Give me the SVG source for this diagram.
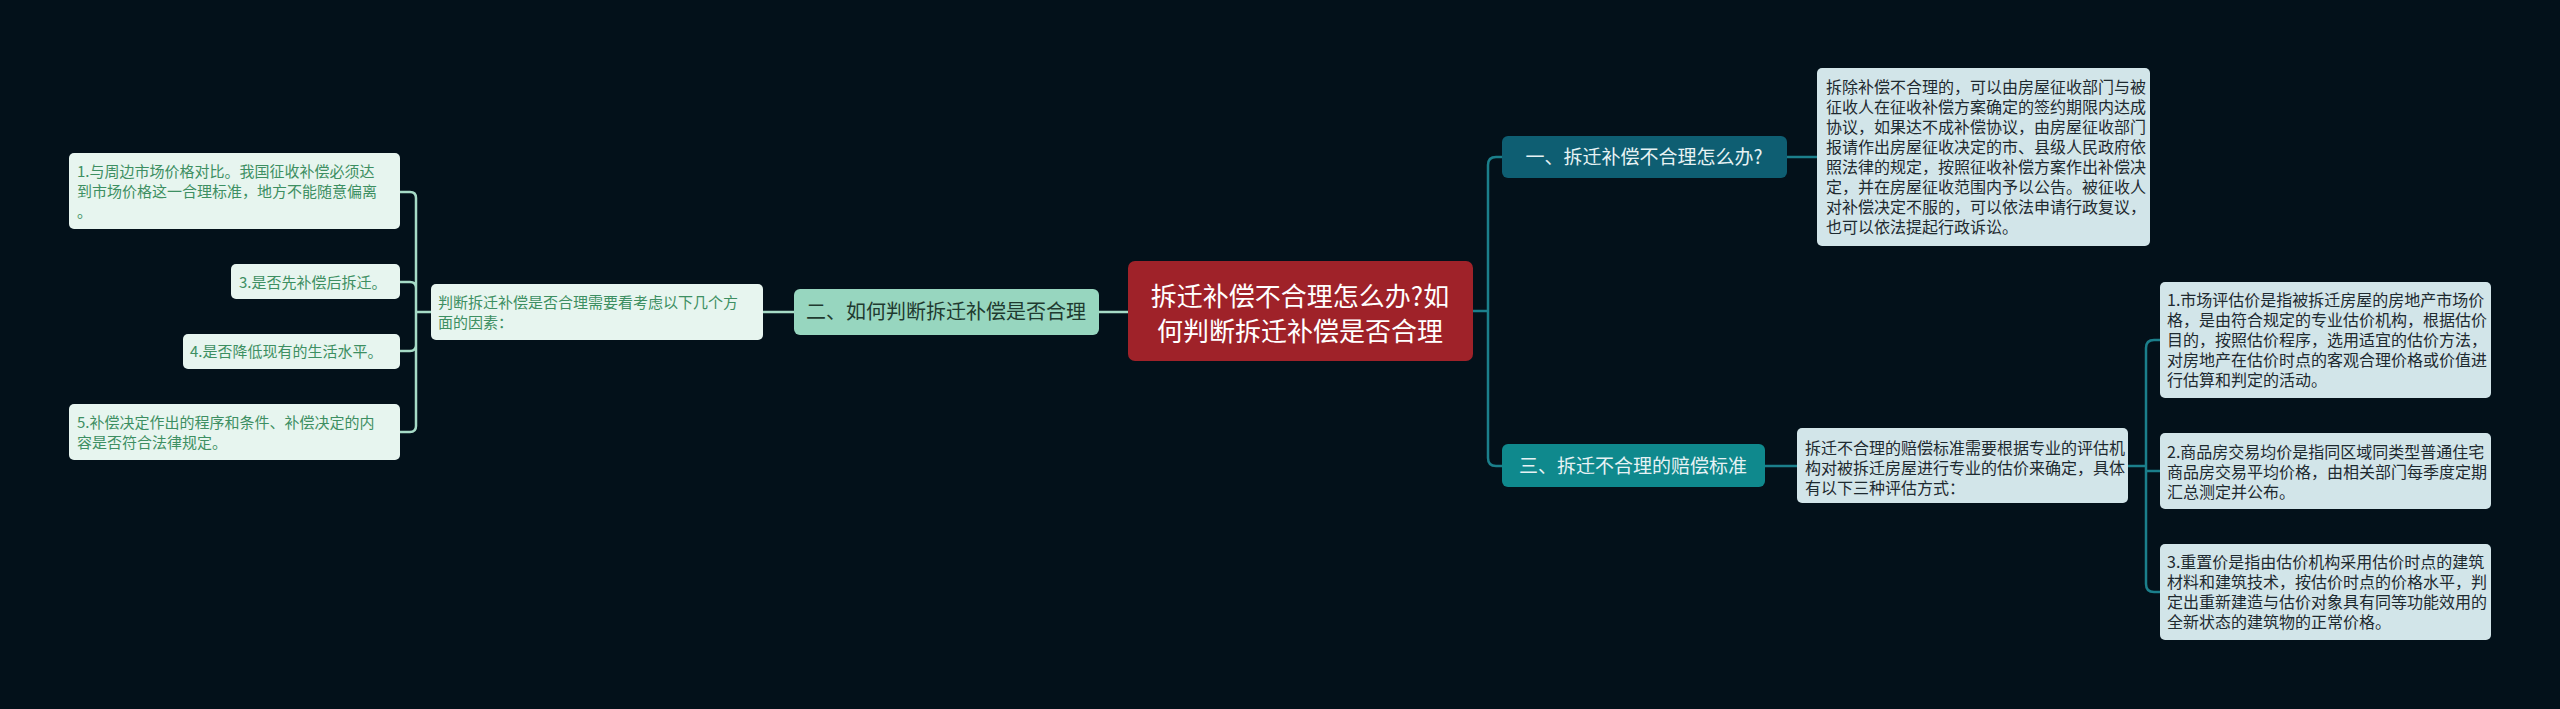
<svg xmlns="http://www.w3.org/2000/svg" width="2560" height="709" viewBox="0 0 2560 709">
<style>
text{font-family:"Noto Sans CJK SC","Liberation Sans",sans-serif}
.t{font-size:16px;fill:#1e2a30}
.l{font-size:15px;fill:#3d8f62}
.cl{fill:none;stroke:#1b7f8b;stroke-width:2.5}
.cg{fill:none;stroke:#a6dbc6;stroke-width:2.5}
</style>
<rect width="2560" height="709" fill="#03111a"/>
<g id="connectors">
<path class="cg" d="M1099 312H1128M763 312H794"/>
<path class="cg" d="M431 312H416V198Q416 192 410 192H400M416 312V288Q416 282 410 282H400M416 312V345Q416 351 410 351H400M416 312V426Q416 432 410 432H400"/>
<path class="cl" d="M1473 311H1488V165Q1488 157 1496 157H1502M1488 311V458Q1488 466 1496 466H1502M1787 157H1817M1765 466H1797"/>
<path class="cl" d="M2128 466H2146V348Q2146 340 2154 340H2160M2146 466V471H2160M2146 466V584Q2146 592 2154 592H2160"/>
</g>
<g id="center"><rect x="1128" y="261" width="345" height="100" rx="7" fill="#9f2229"/>
<text x="1300" y="306" font-size="26" fill="#fff" text-anchor="middle">拆迁补偿不合理怎么办?如</text>
<text x="1300" y="341" font-size="26" fill="#fff" text-anchor="middle">何判断拆迁补偿是否合理</text></g>
<g id="n2"><rect x="794" y="289" width="305" height="46" rx="6" fill="#97d6bf"/>
<text x="946" y="319" font-size="20" fill="#1f3a30" text-anchor="middle">二、如何判断拆迁补偿是否合理</text></g>
<g id="n2t"><rect x="431" y="284" width="332" height="56" rx="5" fill="#e7f5ef"/>
<text class="l"><tspan x="438" y="308">判断拆迁补偿是否合理需要看考虑以下几个方</tspan><tspan x="438" y="328">面的因素：</tspan></text></g>
<g id="l1"><rect x="69" y="153" width="331" height="76" rx="5" fill="#e7f5ef"/>
<text class="l"><tspan x="77" y="177">1.与周边市场价格对比。我国征收补偿必须达</tspan><tspan x="77" y="197">到市场价格这一合理标准，地方不能随意偏离</tspan><tspan x="77" y="217">。</tspan></text></g>
<g id="l3"><rect x="231" y="264" width="169" height="35" rx="5" fill="#e7f5ef"/>
<text class="l" x="239" y="288">3.是否先补偿后拆迁。</text></g>
<g id="l4"><rect x="183" y="334" width="217" height="35" rx="5" fill="#e7f5ef"/>
<text class="l" x="190" y="357">4.是否降低现有的生活水平。</text></g>
<g id="l5"><rect x="69" y="404" width="331" height="56" rx="5" fill="#e7f5ef"/>
<text class="l"><tspan x="77" y="428">5.补偿决定作出的程序和条件、补偿决定的内</tspan><tspan x="77" y="448">容是否符合法律规定。</tspan></text></g>
<g id="n1"><rect x="1502" y="136" width="285" height="42" rx="6" fill="#0e5e72"/>
<text x="1644" y="164" font-size="19" fill="#e6f2f4" text-anchor="middle">一、拆迁补偿不合理怎么办?</text></g>
<g id="n1t"><rect x="1817" y="68" width="333" height="178" rx="5" fill="#d2e5e9"/>
<text class="t"><tspan x="1826" y="93">拆除补偿不合理的，可以由房屋征收部门与被</tspan><tspan x="1826" y="113">征收人在征收补偿方案确定的签约期限内达成</tspan><tspan x="1826" y="133">协议，如果达不成补偿协议，由房屋征收部门</tspan><tspan x="1826" y="153">报请作出房屋征收决定的市、县级人民政府依</tspan><tspan x="1826" y="173">照法律的规定，按照征收补偿方案作出补偿决</tspan><tspan x="1826" y="193">定，并在房屋征收范围内予以公告。被征收人</tspan><tspan x="1826" y="213">对补偿决定不服的，可以依法申请行政复议，</tspan><tspan x="1826" y="233">也可以依法提起行政诉讼。</tspan></text></g>
<g id="n3"><rect x="1502" y="444" width="263" height="43" rx="6" fill="#0f898d"/>
<text x="1633" y="473" font-size="19" fill="#e6f2f4" text-anchor="middle">三、拆迁不合理的赔偿标准</text></g>
<g id="n3t"><rect x="1797" y="428" width="331" height="75" rx="5" fill="#d2e5e9"/>
<text class="t"><tspan x="1805" y="454">拆迁不合理的赔偿标准需要根据专业的评估机</tspan><tspan x="1805" y="474">构对被拆迁房屋进行专业的估价来确定，具体</tspan><tspan x="1805" y="494">有以下三种评估方式：</tspan></text></g>
<g id="r1"><rect x="2160" y="282" width="331" height="116" rx="5" fill="#d2e5e9"/>
<text class="t"><tspan x="2167" y="306">1.市场评估价是指被拆迁房屋的房地产市场价</tspan><tspan x="2167" y="326">格，是由符合规定的专业估价机构，根据估价</tspan><tspan x="2167" y="346">目的，按照估价程序，选用适宜的估价方法，</tspan><tspan x="2167" y="366">对房地产在估价时点的客观合理价格或价值进</tspan><tspan x="2167" y="386">行估算和判定的活动。</tspan></text></g>
<g id="r2"><rect x="2160" y="433" width="331" height="76" rx="5" fill="#d2e5e9"/>
<text class="t"><tspan x="2167" y="458">2.商品房交易均价是指同区域同类型普通住宅</tspan><tspan x="2167" y="478">商品房交易平均价格，由相关部门每季度定期</tspan><tspan x="2167" y="498">汇总测定并公布。</tspan></text></g>
<g id="r3"><rect x="2160" y="544" width="331" height="96" rx="5" fill="#d2e5e9"/>
<text class="t"><tspan x="2167" y="568">3.重置价是指由估价机构采用估价时点的建筑</tspan><tspan x="2167" y="588">材料和建筑技术，按估价时点的价格水平，判</tspan><tspan x="2167" y="608">定出重新建造与估价对象具有同等功能效用的</tspan><tspan x="2167" y="628">全新状态的建筑物的正常价格。</tspan></text></g>
</svg>
